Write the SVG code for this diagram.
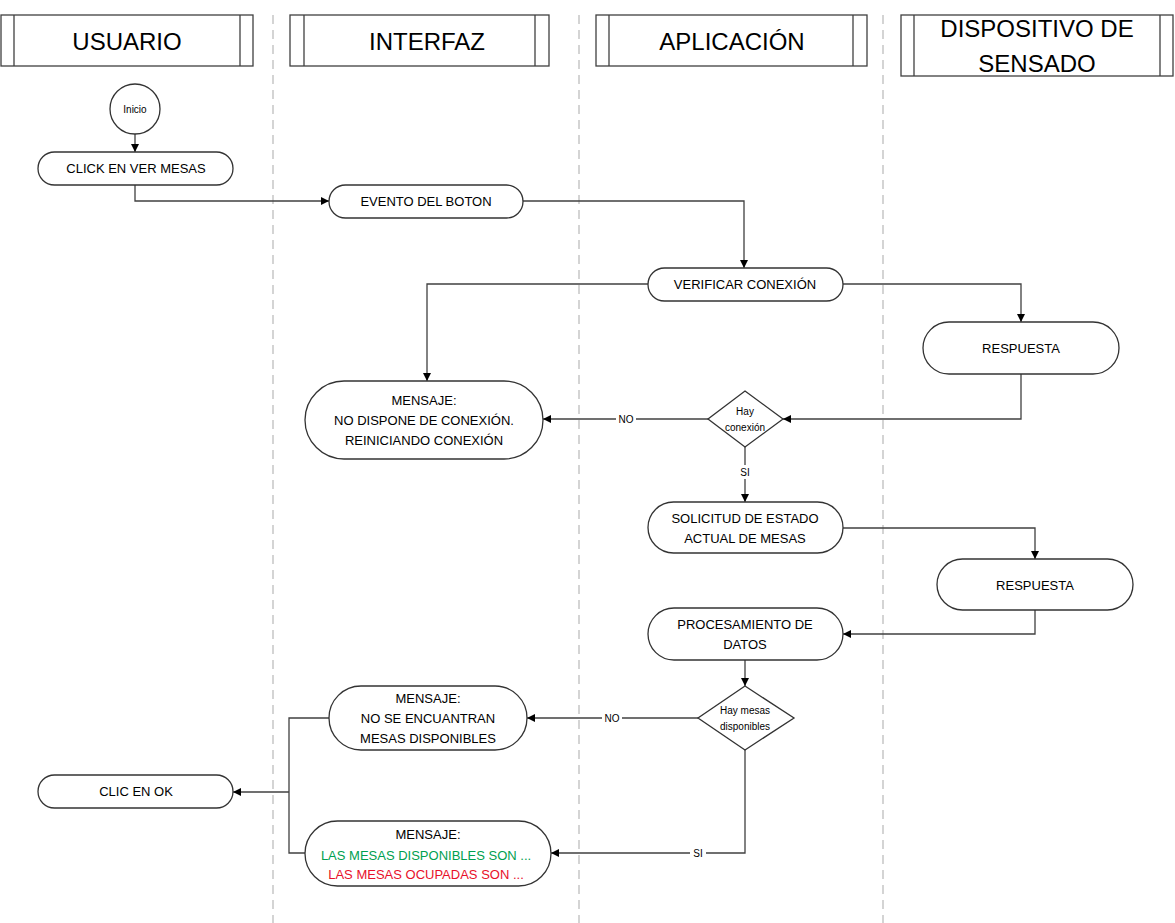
<svg xmlns="http://www.w3.org/2000/svg" width="1175" height="923" viewBox="0 0 1175 923">
<defs>
<marker id="arr" viewBox="0 0 10 10" refX="10" refY="5" markerWidth="8" markerHeight="8" markerUnits="userSpaceOnUse" orient="auto">
<path d="M0,0 L10,5 L0,10 z" fill="#000"/>
</marker>
<style>
.lane{stroke:#bdbdbd;stroke-width:1.3;stroke-dasharray:9,6;fill:none}
.hdr{fill:#fff;stroke:#404040;stroke-width:1.3}
.hl{stroke:#404040;stroke-width:1.3}
.ht{font-family:"Liberation Sans",Arial,sans-serif;font-size:24px;fill:#000;text-anchor:middle}
.node{fill:#fff;stroke:#333;stroke-width:1.3}
.t{font-family:"Liberation Sans",Arial,sans-serif;font-size:13px;fill:#000;text-anchor:middle;dominant-baseline:central}
.s{font-family:"Liberation Sans",Arial,sans-serif;font-size:10px;fill:#000;text-anchor:middle;dominant-baseline:central}
.c{fill:none;stroke:#404040;stroke-width:1.3}
.ca{fill:none;stroke:#404040;stroke-width:1.3;marker-end:url(#arr)}
.lb{fill:#fff}
</style>
</defs>
<rect width="1175" height="923" fill="#fff"/>

<g id="lanes">
<line class="lane" x1="273" y1="15" x2="273" y2="923"/>
<line class="lane" x1="579" y1="15" x2="579" y2="923"/>
<line class="lane" x1="883" y1="15" x2="883" y2="923"/>
</g>

<g id="hdr-usuario">
<rect class="hdr" x="1" y="15" width="252" height="51"/>
<line class="hl" x1="14" y1="15" x2="14" y2="66"/>
<line class="hl" x1="240" y1="15" x2="240" y2="66"/>
<text class="ht" x="127" y="50">USUARIO</text>
</g>
<g id="hdr-interfaz">
<rect class="hdr" x="290" y="15" width="259" height="51"/>
<line class="hl" x1="304" y1="15" x2="304" y2="66"/>
<line class="hl" x1="535" y1="15" x2="535" y2="66"/>
<text class="ht" x="427" y="50">INTERFAZ</text>
</g>
<g id="hdr-aplicacion">
<rect class="hdr" x="596" y="15" width="271" height="51"/>
<line class="hl" x1="609" y1="15" x2="609" y2="66"/>
<line class="hl" x1="853" y1="15" x2="853" y2="66"/>
<text class="ht" x="732" y="50">APLICACIÓN</text>
</g>
<g id="hdr-dispositivo">
<rect class="hdr" x="901" y="15" width="272" height="61"/>
<line class="hl" x1="914" y1="15" x2="914" y2="76"/>
<line class="hl" x1="1160" y1="15" x2="1160" y2="76"/>
<text class="ht" x="1037" y="37">DISPOSITIVO DE</text>
<text class="ht" x="1037" y="72">SENSADO</text>
</g>

<g id="connectors">
<line class="ca" x1="135" y1="134" x2="135" y2="152"/>
<polyline class="ca" points="135,185 135,201 329,201"/>
<polyline class="ca" points="523,201 744,201 744,268"/>
<polyline class="ca" points="648,284 427,284 427,381"/>
<polyline class="ca" points="843,284 1021,284 1021,322"/>
<polyline class="ca" points="1021,374 1021,419 783,419"/>
<line class="ca" x1="708" y1="419" x2="543" y2="419"/>
<line class="ca" x1="745" y1="447" x2="745" y2="502"/>
<polyline class="ca" points="843,528 1035,528 1035,559"/>
<polyline class="ca" points="1035,610 1035,634 843,634"/>
<line class="ca" x1="745" y1="660" x2="745" y2="686"/>
<line class="ca" x1="698" y1="718" x2="527" y2="718"/>
<polyline class="ca" points="745,750 745,853 551,853"/>
<polyline class="c" points="329,718 289,718 289,853 305,853"/>
<line class="ca" x1="289" y1="792" x2="233" y2="792"/>
<rect class="lb" x="616" y="412" width="20" height="14"/>
<text class="s" x="626" y="419">NO</text>
<rect class="lb" x="737" y="465" width="16" height="14"/>
<text class="s" x="745" y="472">SI</text>
<rect class="lb" x="602" y="711" width="20" height="14"/>
<text class="s" x="612" y="718">NO</text>
<rect class="lb" x="690" y="846" width="16" height="14"/>
<text class="s" x="698" y="853">SI</text>
</g>

<g id="inicio">
<circle class="node" cx="135" cy="109" r="25"/>
<text class="s" x="135" y="109">Inicio</text>
</g>
<g id="click-ver-mesas">
<rect class="node" x="38" y="152" width="195" height="33" rx="16.5"/>
<text class="t" x="136" y="168">CLICK EN VER MESAS</text>
</g>
<g id="evento-boton">
<rect class="node" x="329" y="185" width="194" height="33" rx="16.5"/>
<text class="t" x="426" y="201">EVENTO DEL BOTON</text>
</g>
<g id="verificar-conexion">
<rect class="node" x="648" y="268" width="195" height="33" rx="16.5"/>
<text class="t" x="745" y="284">VERIFICAR CONEXIÓN</text>
</g>
<g id="respuesta-1">
<rect class="node" x="923" y="322" width="196" height="52" rx="26"/>
<text class="t" x="1021" y="348">RESPUESTA</text>
</g>
<g id="hay-conexion">
<polygon class="node" points="745,391 783,419 745,447 708,419"/>
<text class="s" x="745" y="411">Hay</text>
<text class="s" x="745" y="427">conexión</text>
</g>
<g id="mensaje-sin-conexion">
<rect class="node" x="305" y="381" width="238" height="78" rx="39"/>
<text class="t" x="424" y="400">MENSAJE:</text>
<text class="t" x="424" y="420">NO DISPONE DE CONEXIÓN.</text>
<text class="t" x="424" y="440">REINICIANDO CONEXIÓN</text>
</g>
<g id="solicitud-estado">
<rect class="node" x="648" y="502" width="195" height="51" rx="25.5"/>
<text class="t" x="745" y="518">SOLICITUD DE ESTADO</text>
<text class="t" x="745" y="538">ACTUAL DE MESAS</text>
</g>
<g id="respuesta-2">
<rect class="node" x="937" y="559" width="196" height="51" rx="25.5"/>
<text class="t" x="1035" y="585">RESPUESTA</text>
</g>
<g id="procesamiento">
<rect class="node" x="648" y="608" width="195" height="52" rx="26"/>
<text class="t" x="745" y="624">PROCESAMIENTO DE</text>
<text class="t" x="745" y="644">DATOS</text>
</g>
<g id="hay-mesas">
<polygon class="node" points="745,686 794,718 745,750 698,718"/>
<text class="s" x="745" y="710">Hay mesas</text>
<text class="s" x="745" y="726">disponibles</text>
</g>
<g id="mensaje-no-mesas">
<rect class="node" x="329" y="686" width="198" height="64" rx="32"/>
<text class="t" x="428" y="698">MENSAJE:</text>
<text class="t" x="428" y="718">NO SE ENCUANTRAN</text>
<text class="t" x="428" y="738">MESAS DISPONIBLES</text>
</g>
<g id="mensaje-mesas">
<rect class="node" x="305" y="821" width="246" height="65" rx="32.5"/>
<text class="t" x="428" y="834">MENSAJE:</text>
<text class="t" x="426" y="855" style="fill:#00A050">LAS MESAS DISPONIBLES SON ...</text>
<text class="t" x="426" y="874" style="fill:#E8102A">LAS MESAS OCUPADAS SON ...</text>
</g>
<g id="clic-ok">
<rect class="node" x="38" y="775" width="195" height="33" rx="16.5"/>
<text class="t" x="136" y="791">CLIC EN OK</text>
</g>
</svg>
